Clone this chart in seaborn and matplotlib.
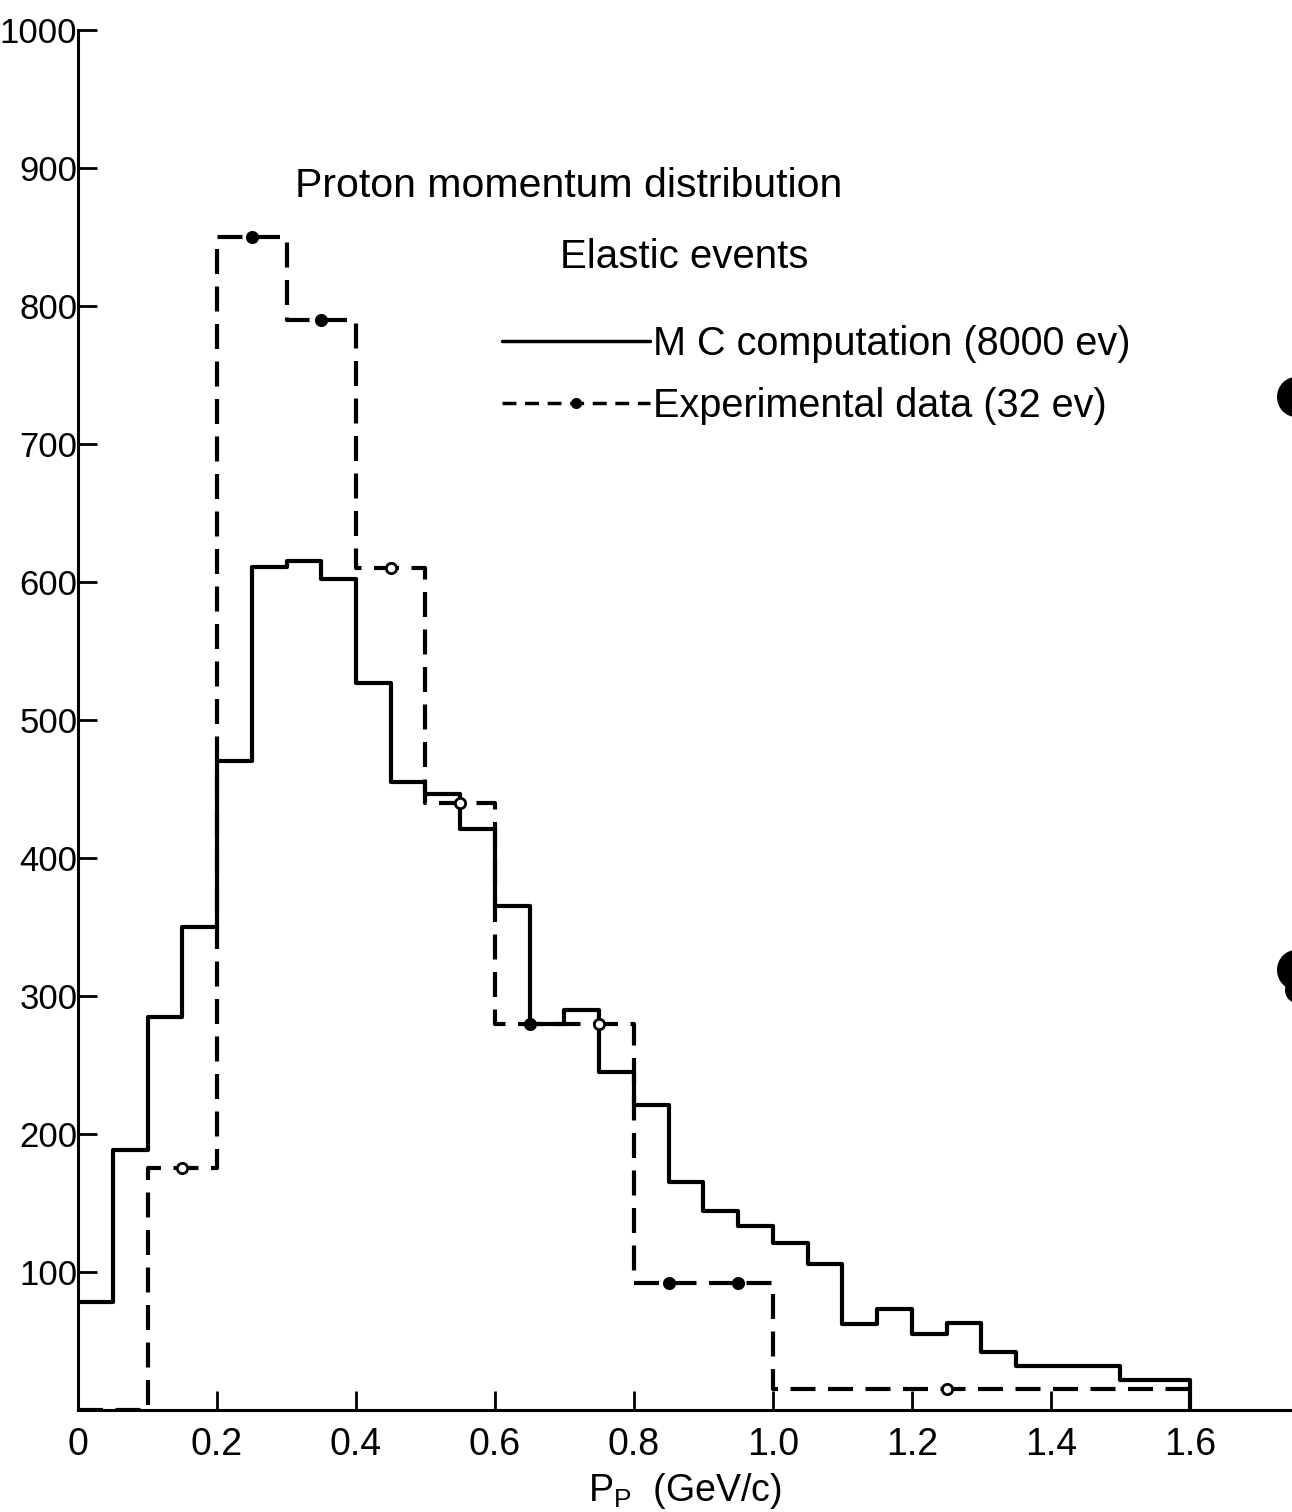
import numpy as np
import pandas as pd
import matplotlib
matplotlib.use("Agg")
import matplotlib.pyplot as plt
from matplotlib.patches import Ellipse
import seaborn as sns

# Monte Carlo histogram: 0.05 GeV/c bins from 0 to 1.6
mc_edges = [round(0.05 * i, 2) for i in range(33)]
mc_counts = [78, 188, 285, 350, 470, 611, 615, 602, 527, 455,
             446, 421, 365, 280, 290, 245, 221, 165, 144, 133,
             121, 106, 62, 73, 55, 63, 42, 32, 32, 32,
             22, 22]

# Experimental histogram (32 events), scaled; last two bins 1.0-1.5 and 1.5-1.6
exp_edges = [0.0, 0.1, 0.2, 0.3, 0.4, 0.5, 0.6, 0.7, 0.8, 0.9, 1.0, 1.5, 1.6]
exp_counts = [0, 175, 850, 790, 610, 440, 280, 280, 92, 92, 15, 15]
# marker fill for the marked bins 0.1-0.2 ... 1.0-1.5
exp_marker_filled = [False, True, True, False, False, True, False, True, True, False]

x_ticks = [0, 0.2, 0.4, 0.6, 0.8, 1.0, 1.2, 1.4, 1.6]
x_tick_labels = ["0", "0.2", "0.4", "0.6", "0.8", "1.0", "1.2", "1.4", "1.6"]
y_ticks = [100, 200, 300, 400, 500, 600, 700, 800, 900, 1000]

title_text = "Proton momentum distribution"
subtitle_text = "Elastic events"
mc_label = "M C computation (8000 ev)"
exp_label = "Experimental data (32 ev)"

sns.set_theme(style="white")
plt.rcParams["font.family"] = ["Liberation Sans", "DejaVu Sans"]
plt.rcParams["mathtext.fontset"] = "custom"
plt.rcParams["mathtext.rm"] = "Liberation Sans"
plt.rcParams["mathtext.it"] = "Liberation Sans"
for key in ["text.color", "axes.labelcolor", "xtick.color", "ytick.color"]:
    plt.rcParams[key] = "black"

mc_e = np.array(mc_edges)
mc_df = pd.DataFrame({"p": (mc_e[:-1] + mc_e[1:]) / 2, "n": mc_counts})
exp_e = np.array(exp_edges)
exp_df = pd.DataFrame({"p": (exp_e[:-1] + exp_e[1:]) / 2, "n": exp_counts})

fig = plt.figure(figsize=(12.92, 15.12), dpi=100)
ax = fig.add_axes([0.0604, 0.0675, 0.9396, 0.9127])

lw = 3.0
sns.histplot(data=mc_df, x="p", weights="n", bins=mc_edges, element="step",
             fill=False, color="black", linewidth=lw, ax=ax)
sns.histplot(data=exp_df, x="p", weights="n", bins=exp_edges, element="step",
             fill=False, color="black", linewidth=lw, linestyle=(0, (6, 3)), ax=ax)

# closing vertical edge of the MC histogram down to the baseline
ax.vlines([mc_edges[-1]], 0, mc_counts[-1], color="black", linewidth=lw)

# experimental bin-centre markers (wide 1.0-1.5 bin marked at its centre)
mk = exp_df.iloc[1:-1].copy()
mk["filled"] = exp_marker_filled
for filled, sub in mk.groupby("filled"):
    sns.scatterplot(data=sub, x="p", y="n", s=55, marker="o",
                    facecolor="black" if filled else "white",
                    edgecolor="black", linewidth=2, zorder=5, ax=ax)

ax.set_xlim(0, 1.747)
ax.set_ylim(0, 1000)
ax.set_xticks(x_ticks)
ax.set_xticklabels(x_tick_labels, fontsize=27)
ax.set_yticks(y_ticks)
ax.set_yticklabels([str(v) for v in y_ticks], fontsize=25)
ax.tick_params(axis="both", direction="in", length=14, width=2, color="black",
               left=True, bottom=True)
ax.tick_params(axis="y", pad=0.5)
ax.tick_params(axis="x", pad=12)
ax.set_xlabel(r"$\mathrm{P_P}$  (GeV/c)", fontsize=27, labelpad=6)
ax.set_ylabel("")

for side in ["top", "right"]:
    ax.spines[side].set_visible(False)
for side in ["left", "bottom"]:
    ax.spines[side].set_linewidth(2.2)
    ax.spines[side].set_color("black")

ax.text(0.312, 887, title_text, fontsize=29.5, ha="left", va="center")
ax.text(0.694, 835.5, subtitle_text, fontsize=29, ha="left", va="center")

h_mc, = ax.plot([], [], color="black", linewidth=2.5)
h_exp, = ax.plot([], [], color="black", linewidth=2.5, linestyle=(0, (4, 2.5)),
                 marker="o", markersize=7, markerfacecolor="black")
ax.legend([h_mc, h_exp], [mc_label, exp_label], loc="upper left",
          bbox_to_anchor=(0.349, 0.786), frameon=False, fontsize=28.5,
          handlelength=3.74, handletextpad=0.08, labelspacing=0.6,
          borderpad=0, borderaxespad=0, numpoints=1)

# binding punch holes along the right page edge
for cx, cy, w, h in [(1296, 397, 38, 40), (1296, 970, 38, 40), (1297, 990, 24, 26)]:
    fig.patches.append(Ellipse((cx, 1512 - cy), w, h, transform=None,
                               facecolor="black", edgecolor="none"))

fig.savefig("out.png", dpi=100, facecolor="white")
